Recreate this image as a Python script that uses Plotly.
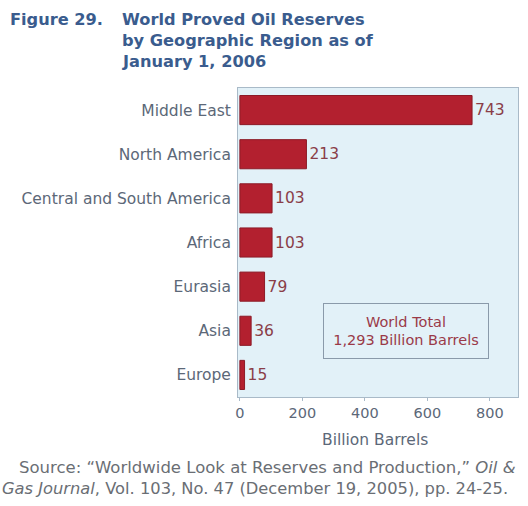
import plotly.graph_objects as go

regions = ["Middle East", "North America", "Central and South America", "Africa", "Eurasia", "Asia", "Europe"]
reserves = [743, 213, 103, 103, 79, 36, 15]
tick_vals = [0, 200, 400, 600, 800]
tick_text = ["0", "200", "400", "600", "800"]

L, R, T, B = 238, 10, 88, 109
W, H = 528, 506
PW, PH = W - L - R, H - T - B
FONT = "DejaVu Sans"

def px(x):
    return (x - L) / PW

def py(y):
    return (H - B - y) / PH

fig = go.Figure(go.Bar(
    y=regions, x=reserves, orientation="h",
    marker=dict(color="#b3202f", line=dict(color="#8c1b27", width=1)),
    text=[str(v) for v in reserves], textposition="outside",
    textfont=dict(color="#8a3e48", size=15.5, family=FONT),
    cliponaxis=False, width=0.66,
))

title_font = dict(family=FONT, size=16.2, color="#3a5c8e")
ann = [
    dict(text="<b>Figure 29.</b>", x=px(8), y=py(20), xanchor="left", yanchor="middle", font=title_font),
    dict(text="<b>World Proved Oil Reserves</b>", x=px(120), y=py(20), xanchor="left", yanchor="middle", font=title_font),
    dict(text="<b>by Geographic Region as of</b>", x=px(120), y=py(41), xanchor="left", yanchor="middle", font=title_font),
    dict(text="<b>January 1, 2006</b>", x=px(120), y=py(62), xanchor="left", yanchor="middle", font=title_font),
    dict(text="Billion Barrels", x=px(375), y=py(440), xanchor="center", yanchor="middle",
         font=dict(family=FONT, size=15.5, color="#5c6878")),
    dict(text="Source: \u201cWorldwide Look at Reserves and Production,\u201d <i>Oil &amp;</i>",
         x=px(17), y=py(467), xanchor="left", yanchor="middle",
         font=dict(family=FONT, size=16.5, color="#6a6e74")),
    dict(text="<i>Gas Journal</i>, Vol. 103, No. 47 (December 19, 2005), pp. 24-25.",
         x=px(0), y=py(488), xanchor="left", yanchor="middle",
         font=dict(family=FONT, size=16.3, color="#6a6e74")),
    dict(text="World Total<br>1,293 Billion Barrels", x=px(406), y=py(331), xanchor="center", yanchor="middle",
         width=158, height=48, bordercolor="#8a9aaa", borderwidth=1, borderpad=3,
         font=dict(family=FONT, size=14.5, color="#9a3a48"), align="center"),
]
for a in ann:
    a.update(xref="paper", yref="paper", showarrow=False)

fig.update_layout(
    width=W, height=H, margin=dict(l=L, r=R, t=T, b=B, autoexpand=False),
    paper_bgcolor="white", plot_bgcolor="#e2f1f8",
    showlegend=False, annotations=ann,
    xaxis=dict(range=[-6, 890], tickvals=tick_vals, ticktext=tick_text, showgrid=False, zeroline=False,
               showline=True, linecolor="#a9bac8", mirror=True, ticks="outside", ticklen=3,
               tickcolor="#a9bac8",
               tickfont=dict(family=FONT, size=14.5, color="#5c6878")),
    yaxis=dict(categoryorder="array", categoryarray=regions[::-1], showgrid=False, zeroline=False,
               showline=True, linecolor="#a9bac8", mirror=True, ticks="", ticklabelstandoff=3,
               tickfont=dict(family=FONT, size=15.5, color="#5c6878")),
)

fig.write_html("out.html")
